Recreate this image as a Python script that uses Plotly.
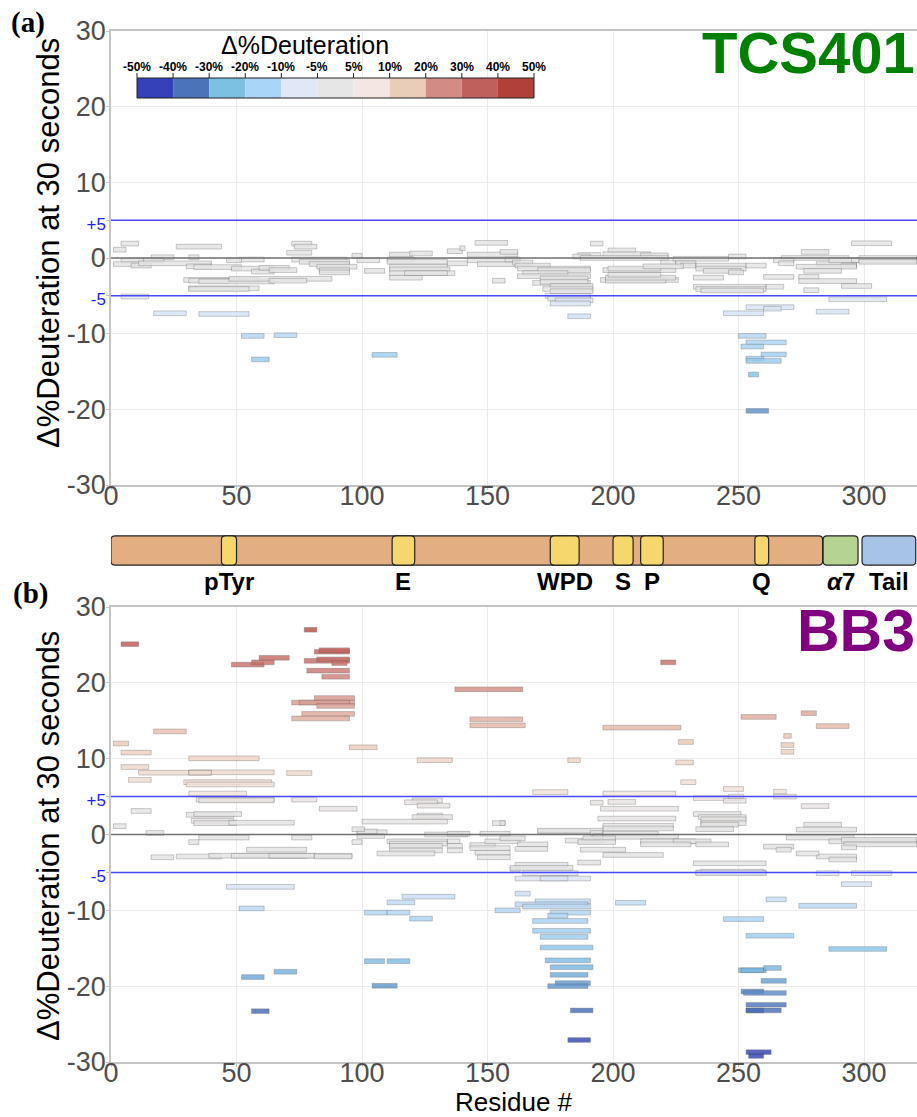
import plotly.graph_objects as go

W, H = 917, 1117

# ---------------- DATA ----------------
# TCS401 peptides: start residue, end residue, delta %D at 30 s
TCS_START = [4, 1, 26, 72, 73, 70, 134, 139, 145, 152, 4, 17, 35, 52, 65, 56, 104, 16, 31, 51, 13, 4, 1, 8, 11, 30, 33,
             46, 48, 56, 59, 63, 72, 75, 79, 82, 83, 83, 96, 98, 101, 111, 119, 110, 110, 111, 111, 111, 111, 117, 134,
             142, 142, 146, 29, 31, 35, 47, 63, 31, 31,
             191, 198, 196, 186, 184, 211, 187, 219, 224, 225, 227, 233, 233, 236, 246, 232, 246, 253, 260, 274,
             274, 291, 276, 232, 233, 235, 261, 286, 253, 260, 244, 281, 275, 295, 267, 264, 266, 281, 286, 291,
             273, 276, 295, 298, 298,
             155, 157, 160, 161, 162, 170, 164, 162, 171, 168, 171, 175, 172, 175, 173, 174, 177, 175, 182, 195,
             197, 197, 198, 196, 198, 212,
             250, 253, 251, 259, 253, 253, 254, 253]
TCS_END = [11, 6, 44, 80, 82, 80, 140, 141, 158, 157, 15, 30, 55, 61, 74, 63, 114, 25, 35, 61, 21, 13, 13, 16, 40, 40, 52,
           52, 65, 65, 71, 74, 94, 95, 95, 98, 95, 95, 100, 107, 109, 120, 128, 121, 134, 134, 135, 137, 124, 134, 142,
           162, 162, 162, 59, 47, 65, 88, 78, 59, 55,
           196, 209, 215, 195, 191, 222, 222, 225, 246, 233, 233, 253, 253, 251, 252, 244, 253, 261, 272, 282,
           297, 303, 282, 261, 261, 260, 268, 309, 272, 267, 260, 294, 286, 311, 294, 272, 272, 297, 298, 297,
           297, 291, 321, 321, 321,
           162, 163, 168, 175, 191, 191, 182, 191, 190, 191, 190, 192, 192, 192, 191, 191, 192, 191, 191, 226,
           221, 225, 219, 225, 219, 228,
           261, 269, 260, 269, 260, 267, 258, 262]
TCS_DELTA = [1.9, 1.1, 1.5, 1.9, 1.5, 0.7, 0.9, 1.3, 2.0, -3.0, -5.1, -7.3, -7.4, -10.3, -10.2, -13.4, -12.8,
             0.1, 0.1, -0.2, -0.3, -0.35, -0.8, -1.0, -0.7, -1.1, -1.2, -0.3, -1.4, -1.8, -1.3, -1.6, -0.2, -0.5,
             -0.8, -1.15, -1.6, -1.9, 0.3, -0.3, -1.7, 0.45, 0.6, -0.2, -0.5, -1.15, -1.5, -2.0, -2.6, -2.0, -0.7,
             0.45, -0.3, -0.8, -2.9, -3.0, -3.1, -2.75, -3.0, -4.0, -4.1,
             1.9, 1.0, 0.5, 0.4, 0.2, 0.35, 0.0, -0.6, -0.1, -0.7, -1.0, -1.0, -1.4, -1.7, -1.9, -2.6, 0.2, -1.0,
             -2.5, -2.5, -3.05, -3.7, -4.25, -3.8, -4.1, -4.3, -3.8, -5.45, -6.5, -6.7, -7.3, -7.1, 0.8, 1.95, 0.0,
             -0.3, -0.7, -0.8, -0.3, -1.0, -1.15, -1.7, -0.3, 0.0, -0.5,
             0.8, -0.2, -0.6, -1.0, -1.4, -1.6, -2.0, -2.4, -2.7, -3.3, -3.15, -3.7, -4.1, -4.4, -5.0, -5.35, -5.6,
             -6.0, -7.7, -2.9, -3.0, -2.6, -2.2, -1.6, -1.4, -1.1,
             -10.3, -11.15, -11.7, -12.75, -13.3, -13.6, -15.4, -20.2]

# BB3 peptides
BB3_START = [4, 48, 56, 59, 77, 81, 83, 77, 82, 88, 78, 84, 72, 81, 75, 82, 76, 72, 17, 1,
             4, 95, 31, 4, 11, 31, 31, 70, 7, 29, 30, 31, 34, 35, 72, 83, 8, 30, 33, 32, 33, 47, 1, 14, 98,
             219, 137, 143, 143, 196, 251, 275, 281, 226, 268, 267, 267, 122, 182, 225, 227, 168, 196, 244, 264,
             264, 232, 246, 244, 120, 117, 122, 191, 198, 195, 275, 122, 120, 100, 152, 194, 196, 196, 232, 234,
             235, 235, 235, 233, 276, 273, 170, 125, 147, 269,
             98, 98, 96, 134, 35, 72, 31, 96, 110, 111, 111, 111, 106, 134, 134, 134, 143, 143, 145, 146,
             149, 54, 16, 26, 39, 48, 63, 81, 159, 46,
             51, 101, 110, 110, 116, 119, 101, 110, 52, 65, 104, 56, 153,
             161, 169, 161, 164, 175, 174, 168, 168, 171, 171, 173, 175, 175, 177, 174, 183, 182, 201, 186, 196,
             187, 161, 159, 164, 161, 171, 170, 191, 196, 192, 196, 181, 188, 186, 211, 224, 211, 233, 155, 162,
             161, 155,
             232, 233, 235, 233, 261, 274, 244, 253, 286, 250, 251, 260, 259, 251, 252, 253, 253, 253, 253, 254,
             281, 295, 291, 281, 286, 273, 260, 265, 286, 291, 292, 291]
BB3_END = [11, 61, 65, 71, 82, 95, 95, 95, 95, 94, 95, 95, 97, 97, 95, 97, 97, 95, 30, 7,
           16, 106, 59, 15, 40, 65, 40, 80, 16, 64, 65, 54, 65, 65, 82, 98, 16, 49, 52, 49, 50, 73, 6, 21, 110,
           225, 164, 164, 165, 227, 265, 281, 294, 232, 271, 272, 272, 136, 187, 232, 233, 182, 225, 252, 269,
           273, 251, 252, 253, 132, 130, 135, 196, 209, 226, 286, 132, 136, 134, 157, 225, 224, 224, 251, 253,
           253, 253, 250, 248, 291, 297, 191, 142, 159, 296,
           106, 109, 101, 143, 55, 80, 35, 100, 134, 134, 132, 132, 129, 139, 140, 140, 153, 159, 159, 159,
           163, 78, 25, 44, 78, 96, 81, 96, 163, 73,
           61, 110, 119, 121, 137, 128, 109, 119, 61, 74, 114, 63, 163,
           167, 191, 190, 191, 191, 182, 190, 191, 190, 192, 191, 192, 190, 191, 190, 192, 191, 213, 195, 220,
           205, 182, 184, 186, 191, 182, 196, 196, 218, 196, 226, 196, 201, 201, 233, 239, 231, 246, 157, 174,
           174, 165,
           261, 261, 260, 261, 269, 297, 260, 272, 309, 261, 260, 267, 269, 260, 269, 269, 267, 260, 263, 260,
           290, 311, 303, 297, 297, 282, 272, 271, 321, 321, 321, 297]
BB3_DELTA = [25.1, 22.4, 22.7, 23.3, 27.0, 24.1, 24.3, 22.9, 23.1, 22.6, 21.6, 20.8, 17.4, 18.0, 17.4, 16.95, 15.9,
             15.3, 13.6, 12.0, 10.8, 11.5, 10.05, 8.9, 8.15, 8.2, 8.15, 8.1, 7.2, 6.9, 6.6, 5.4, 4.6, 4.5, 4.6, 3.4,
             3.1, 2.6, 2.7, 1.8, 1.5, 1.55, 1.1, 0.2, 0.3,
             22.7, 19.15, 15.2, 14.4, 14.1, 15.5, 16.0, 14.3, 12.2, 13.0, 11.8, 10.9, 9.8, 9.8, 9.5, 6.9, 5.6, 5.4,
             6.0, 5.65, 5.0, 4.8, 5.0, 4.45, 4.5, 4.25, 3.8, 4.2, 4.3, 3.4, 3.75, 2.5, 2.3, 1.7, 1.5, 2.1, 1.15, 0.8,
             2.7, 2.3, 2.0, 1.5, 1.3, 0.7, 1.3, 0.65, 0.4, 0.0, 0.1, -0.4,
             0.4, -0.2, 0.7, 0.1, -0.4, -0.4, -1.0, -1.0, -0.9, -1.2, -1.5, -2.1, -2.5, -0.9, -1.5, -2.1, -1.4, -1.8,
             -2.4, -3.0, -0.9, -2.0, -3.0, -2.9, -2.8, -2.8, -2.8, -2.9, -4.6, -6.9,
             -9.75, -10.3, -10.3, -8.95, -8.2, -11.1, -16.7, -16.7, -18.8, -18.1, -19.95, -23.3, -10.0,
             -7.8, -8.8, -9.2, -9.5, -10.3, -10.7, -11.4, -12.7, -13.5, -14.9, -16.6, -17.5, -18.5, -19.6, -20.0,
             -23.2, -27.1, -9.0, -3.7, -2.7, -2.0, -4.0, -4.4, -5.1, -5.8, -5.8, 0.5, 0.2, 0.1, -0.2, -0.3, -0.8,
             -0.5, -1.0, -0.9, -0.9, -1.3, -1.3, 1.5, -1.3, -1.9, -0.5,
             -3.8, -5.0, -4.9, -5.1, -8.55, -9.4, -11.15, -13.35, -15.1, -17.9, -17.9, -17.6, -19.3, -20.7, -20.9,
             -22.45, -23.2, -23.2, -28.7, -29.2, -5.1, -5.1, -6.55, -2.9, -3.3, -2.5, -1.6, -2.0, -0.9, -0.7, -1.3,
             -1.7]

# Protein domain map
DOMAIN_NAMES = ["pTyr", "E", "WPD", "S", "P", "Q", "<i>α</i>7", "Tail"]
DOMAIN_START = [44, 112, 175, 200, 211, 256.5, 283.7, 299.2]
DOMAIN_END = [50, 121, 186.5, 208, 220, 262, 297.6, 320.6]
CATALYTIC_START, CATALYTIC_END = 0, 283.5

# Legend bins
LEGEND_EDGES = [-50, -40, -30, -20, -10, -5, 5, 10, 20, 30, 40, 50]
LEGEND_LABELS = ["-50%", "-40%", "-30%", "-20%", "-10%", "-5%", "5%", "10%", "20%", "30%", "40%", "50%"]

THRESHOLDS = [-5, 5]
X_TICKS = [0, 50, 100, 150, 200, 250, 300]
Y_TICKS = [-30, -20, -10, -5, 0, 5, 10, 20, 30]

# ---------------- STYLE ----------------
LEGEND_COLORS = ["#3441B8", "#4B73B8", "#7CC0E2", "#A9D5F9", "#E0E8F8", "#E6E6E6",
                 "#F4E6E2", "#EACDB8", "#D38B86", "#C0605C", "#B04038"]
DOMAIN_COLORS = ["#F5D76E"] * 6 + ["#B5D491", "#A7C3E6"]
CATALYTIC_COLOR = "#E3AE80"

CMIN, CMAX = -30, 30
STOPS = [(-30, "rgb(52,65,180)"), (-27, "rgb(56,72,180)"), (-23, "rgb(74,112,184)"), (-20, "rgb(100,150,205)"),
         (-18, "rgb(118,180,222)"), (-15, "rgb(140,198,236)"), (-12, "rgb(165,210,242)"), (-10, "rgb(180,214,244)"),
         (-7, "rgb(214,228,246)"), (-5, "rgb(224,230,242)"), (-4.5, "rgb(228,228,230)"), (0, "rgb(228,228,228)"),
         (4.5, "rgb(232,228,226)"), (5, "rgb(242,228,222)"), (10, "rgb(238,212,196)"), (13, "rgb(234,198,180)"),
         (15, "rgb(226,176,162)"), (18, "rgb(214,152,142)"), (22, "rgb(202,118,112)"), (25, "rgb(192,92,88)"),
         (30, "rgb(176,64,56)")]
CSCALE = [[(v - CMIN) / (CMAX - CMIN), c] for v, c in STOPS]

FONT = "Liberation Sans, Arial, sans-serif"
TICK_GRAY = "#4d4d4d"
FRAME = "#c4c4c4"
GRID = "#ebebeb"
BAR_H = 0.62

XMAX = 321.1
X_DOM = [111 / W, 1.0]


def py(p):
    return 1 - p / H


def px(p):
    return p / W


TOP_DOM = [py(485), py(31)]
BOT_DOM = [py(1062), py(607)]
MAP_DOM = [py(566), py(535)]

fig = go.Figure()


def add_peptides(start, end, delta, xa, ya):
    fig.add_trace(go.Bar(
        orientation="h", y=delta, x=[e - s for s, e in zip(start, end)], base=start, width=BAR_H,
        marker=dict(color=delta, colorscale=CSCALE, cmin=CMIN, cmax=CMAX, opacity=0.82,
                    line=dict(color="rgba(80,80,80,0.45)", width=0.8)),
        xaxis=xa, yaxis=ya, showlegend=False, hoverinfo="skip"))


add_peptides(TCS_START, TCS_END, TCS_DELTA, "x", "y")
add_peptides(BB3_START, BB3_END, BB3_DELTA, "x2", "y2")


def rounded(x0, x1, y0=0.0, y1=1.0, rx=1.6, ry=0.13):
    return (f"M {x0 + rx},{y0} L {x1 - rx},{y0} Q {x1},{y0} {x1},{y0 + ry} L {x1},{y1 - ry} "
            f"Q {x1},{y1} {x1 - rx},{y1} L {x0 + rx},{y1} Q {x0},{y1} {x0},{y1 - ry} L {x0},{y0 + ry} "
            f"Q {x0},{y0} {x0 + rx},{y0} Z")


shapes = []
shapes.append(dict(type="path", xref="x3", yref="y3", path=rounded(CATALYTIC_START, CATALYTIC_END),
                   fillcolor=CATALYTIC_COLOR, line=dict(color="#222", width=1.2)))
for s, e, c in zip(DOMAIN_START, DOMAIN_END, DOMAIN_COLORS):
    shapes.append(dict(type="path", xref="x3", yref="y3", path=rounded(s, e),
                       fillcolor=c, line=dict(color="#222", width=1.2)))

for ya, xd in [("y", "x domain"), ("y2", "x2 domain")]:
    shapes.append(dict(type="line", xref=xd, yref=ya, x0=0, x1=1, y0=0, y1=0,
                       line=dict(color="#707070", width=1.3), layer="above"))
    for t in THRESHOLDS:
        shapes.append(dict(type="line", xref=xd, yref=ya, x0=0, x1=1, y0=t, y1=t,
                           line=dict(color="#4848ff", width=1.5), layer="above"))

annotations = []
# domain labels
for nme, s, e in zip(DOMAIN_NAMES, DOMAIN_START, DOMAIN_END):
    annotations.append(dict(x=(s + e) / 2, y=py(581), xref="x3", yref="paper", text=f"<b>{nme}</b>",
                            showarrow=False, font=dict(family=FONT, size=24, color="black"),
                            xanchor="center", yanchor="middle"))

# colour legend
LX0, LX1, LY0, LY1 = 137, 534, 78, 98
n = len(LEGEND_COLORS)
step = (LX1 - LX0) / n
for i, c in enumerate(LEGEND_COLORS):
    shapes.append(dict(type="rect", xref="paper", yref="paper", x0=px(LX0 + i * step), x1=px(LX0 + (i + 1) * step),
                       y0=py(LY1), y1=py(LY0), fillcolor=c, line=dict(width=0), layer="above"))
shapes.append(dict(type="rect", xref="paper", yref="paper", x0=px(LX0), x1=px(LX1), y0=py(LY1), y1=py(LY0),
                   fillcolor="rgba(0,0,0,0)", line=dict(color="#222", width=1), layer="above"))
for i, lab in enumerate(LEGEND_LABELS):
    xx = LX0 + i * step
    shapes.append(dict(type="line", xref="paper", yref="paper", x0=px(xx), x1=px(xx), y0=py(LY0), y1=py(LY0 - 5),
                       line=dict(color="#222", width=1), layer="above"))
    annotations.append(dict(x=px(xx), y=py(67), xref="paper", yref="paper", text=f"<b>{lab}</b>", showarrow=False,
                            font=dict(family=FONT, size=12, color="black"), xanchor="center", yanchor="middle"))
annotations.append(dict(x=px(305), y=py(45), xref="paper", yref="paper", text="Δ%Deuteration", showarrow=False,
                        font=dict(family=FONT, size=25, color="black"), xanchor="center", yanchor="middle"))

annotations += [
    dict(x=1.0, y=py(52), xref="paper", yref="paper", text="<b>TCS401</b>", showarrow=False,
         font=dict(family=FONT, size=58, color="#008000"), xanchor="right", yanchor="middle"),
    dict(x=1.0, y=py(631), xref="paper", yref="paper", text="<b>BB3</b>", showarrow=False,
         font=dict(family=FONT, size=59, color="#800080"), xanchor="right", yanchor="middle"),
    dict(x=px(28), y=py(23), xref="paper", yref="paper", text="<b>(a)</b>", showarrow=False,
         font=dict(family="Liberation Serif, Times New Roman, serif", size=29, color="black"),
         xanchor="center", yanchor="middle"),
    dict(x=px(30), y=py(593), xref="paper", yref="paper", text="<b>(b)</b>", showarrow=False,
         font=dict(family="Liberation Serif, Times New Roman, serif", size=29, color="black"),
         xanchor="center", yanchor="middle"),
    dict(x=px(48), y=py(243), xref="paper", yref="paper",
         text="Δ%Deuteration at 30 seconds", textangle=-90, showarrow=False,
         font=dict(family=FONT, size=31, color="black"), xanchor="center", yanchor="middle"),
    dict(x=px(48), y=py(836), xref="paper", yref="paper",
         text="Δ%Deuteration at 30 seconds", textangle=-90, showarrow=False,
         font=dict(family=FONT, size=31, color="black"), xanchor="center", yanchor="middle"),
    dict(x=(X_DOM[0] + X_DOM[1]) / 2, y=py(1102), xref="paper", yref="paper", text="Residue #", showarrow=False,
         font=dict(family=FONT, size=26, color="black"), xanchor="center", yanchor="middle"),
]

ytext = []
for v in Y_TICKS:
    if v in THRESHOLDS:
        lab = ("+" if v > 0 else "") + str(v)
        ytext.append(f"<span style='color:#2020ff;font-size:17px'>{lab}</span>")
    else:
        ytext.append(str(v))

xax = dict(domain=X_DOM, range=[0, XMAX], tickvals=X_TICKS, showgrid=True, gridcolor=GRID, gridwidth=1,
           zeroline=False, showline=True, mirror=True, linecolor=FRAME, linewidth=1.5, automargin=False,
           ticks="outside", ticklen=3, tickcolor=FRAME, ticklabelstandoff=-17,
           tickfont=dict(family=FONT, size=27, color=TICK_GRAY))
yax = dict(range=[-30, 30], tickvals=Y_TICKS, ticktext=ytext, showgrid=True, gridcolor=GRID, gridwidth=1,
           zeroline=False, showline=True, mirror=True, linecolor=FRAME, linewidth=1.5, automargin=False,
           ticks="outside", ticklen=3, tickcolor=FRAME, ticklabelstandoff=-5,
           tickfont=dict(family=FONT, size=27, color=TICK_GRAY))

fig.update_layout(
    width=W, height=H, margin=dict(l=0, r=0, t=0, b=0, pad=0), autosize=False,
    paper_bgcolor="white", plot_bgcolor="white", barmode="overlay", showlegend=False,
    xaxis=dict(**xax, anchor="y"),
    yaxis=dict(**yax, domain=TOP_DOM, anchor="x"),
    xaxis2=dict(**xax, anchor="y2"),
    yaxis2=dict(**yax, domain=BOT_DOM, anchor="x2"),
    xaxis3=dict(domain=X_DOM, range=[0, XMAX], visible=False, anchor="y3", fixedrange=True, automargin=False),
    yaxis3=dict(domain=MAP_DOM, range=[-0.03, 1.03], visible=False, anchor="x3", fixedrange=True, automargin=False),
    shapes=shapes, annotations=annotations,
)

fig.write_html("out.html", config={"responsive": False, "displayModeBar": False},
               post_script="document.body.style.margin='0px';document.body.style.padding='0px';"
                           "document.documentElement.style.overflow='hidden';")
